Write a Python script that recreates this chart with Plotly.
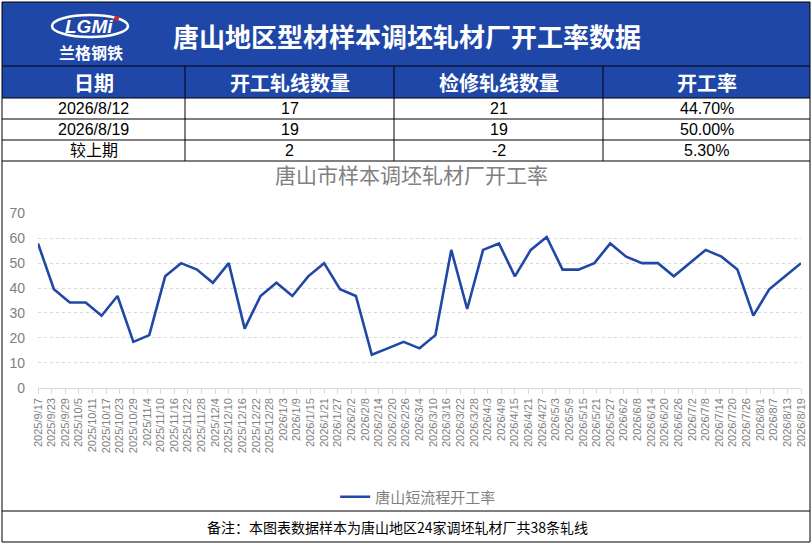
import plotly.graph_objects as go

W, H = 812, 544

# ---- data ----
dates = [
    "2025-09-17", "2025-09-24", "2025-10-01", "2025-10-08", "2025-10-15", "2025-10-22", "2025-10-29",
    "2025-11-05", "2025-11-12", "2025-11-19", "2025-11-26", "2025-12-03", "2025-12-10", "2025-12-17",
    "2025-12-24", "2025-12-31", "2026-01-07", "2026-01-14", "2026-01-21", "2026-01-28", "2026-02-04",
    "2026-02-11", "2026-02-18", "2026-02-25", "2026-03-04", "2026-03-11", "2026-03-18", "2026-03-25",
    "2026-04-01", "2026-04-08", "2026-04-15", "2026-04-22", "2026-04-29", "2026-05-06", "2026-05-13",
    "2026-05-20", "2026-05-27", "2026-06-03", "2026-06-10", "2026-06-17", "2026-06-24", "2026-07-01",
    "2026-07-08", "2026-07-15", "2026-07-22", "2026-07-29", "2026-08-05", "2026-08-12", "2026-08-19",
]
rates = [
    57.9, 39.5, 34.2, 34.2, 28.9, 36.8, 18.4,
    21.1, 44.7, 50.0, 47.4, 42.1, 50.0, 23.7,
    36.8, 42.1, 36.8, 44.7, 50.0, 39.5, 36.8,
    13.2, 15.8, 18.4, 15.8, 21.1, 55.3, 31.6,
    55.3, 57.9, 44.7, 55.3, 60.5, 47.4, 47.4,
    50.0, 57.9, 52.6, 50.0, 50.0, 44.7, 50.0,
    55.3, 52.6, 47.4, 28.9, 39.5, 44.7, 50.0,
]
series_name = "唐山短流程开工率"

header_title = "唐山地区型材样本调坯轧材厂开工率数据"
table_headers = ["日期", "开工轧线数量", "检修轧线数量", "开工率"]
table_rows = [
    ["2026/8/12", "17", "21", "44.70%"],
    ["2026/8/19", "19", "19", "50.00%"],
    ["较上期", "2", "-2", "5.30%"],
]
chart_title = "唐山市样本调坯轧材厂开工率"
footnote = "备注：本图表数据样本为唐山地区24家调坯轧材厂共38条轧线"

# ---- helpers (pixel -> paper) ----
def X(px):
    return px / W

def Y(py):
    return 1 - py / H

BLUE = "#1E47A8"
LINE_BLUE = "#2148A6"
CJK = "Noto Sans CJK SC"
NARROW = "Liberation Sans, Noto Sans CJK SC"

fig = go.Figure()
fig.add_trace(go.Scatter(
    x=dates, y=rates, mode="lines", name=series_name,
    line=dict(color=LINE_BLUE, width=2.6),
))

shapes = []
annotations = []

def text(px, py, s, size, color, family=CJK, xanchor="center"):
    annotations.append(dict(xref="paper", yref="paper", x=X(px), y=Y(py),
                            xanchor=xanchor, yanchor="middle",
                            text=s, showarrow=False,
                            font=dict(family=family, size=size, color=color)))

# header band
shapes.append(dict(type="rect", xref="paper", yref="paper",
                   x0=X(2), x1=X(810), y0=Y(98), y1=Y(2),
                   fillcolor=BLUE, line=dict(width=0), layer="below"))

def hline(py, x0=2, x1=810, color="black", w=1):
    shapes.append(dict(type="line", xref="paper", yref="paper",
                       x0=X(x0), x1=X(x1), y0=Y(py), y1=Y(py),
                       line=dict(color=color, width=w)))

def vline(px, y0, y1, color="black", w=1):
    shapes.append(dict(type="line", xref="paper", yref="paper",
                       x0=X(px), x1=X(px), y0=Y(y0), y1=Y(y1),
                       line=dict(color=color, width=w)))

for py in [2, 66, 98, 119, 140, 161, 511, 542]:
    hline(py)
vline(2, 2, 542)
vline(810, 2, 542)
col_edges = [2, 185, 394, 603, 810]
for px in col_edges[1:-1]:
    vline(px, 66, 161)

# logo
shapes.append(dict(type="circle", xref="paper", yref="paper",
                   x0=X(52), x1=X(128), y0=Y(37), y1=Y(15),
                   line=dict(color="white", width=2.5)))
shapes.append(dict(type="circle", xref="paper", yref="paper",
                   x0=X(114), x1=X(119), y0=Y(21), y1=Y(16),
                   fillcolor="#E02020", line=dict(width=0)))
text(89, 26.5, "<b><i>LGMi</i></b>", 19, "white", family="Arial, Liberation Sans")
text(91, 51.5, "<b>兰格钢铁</b>", 16, "white")

# main title
text(407, 36, "<b>" + header_title + "</b>", 26, "white")

# table
col_centers = [(col_edges[i] + col_edges[i + 1]) / 2 for i in range(4)]
for i, h in enumerate(table_headers):
    text(col_centers[i], 82, "<b>" + h + "</b>", 20, "white")
row_centers = [108.5, 129.5, 150.5]
for r, row in enumerate(table_rows):
    for i, cell in enumerate(row):
        text(col_centers[i], row_centers[r], cell, 16, "black", family=NARROW)

# chart title
text(411, 174, chart_title, 21, "#808080")

# footnote
text(205, 527, footnote, 14, "black", xanchor="left")

fig.update_layout(
    width=W, height=H,
    margin=dict(l=0, r=0, t=0, b=0, pad=0, autoexpand=False),
    paper_bgcolor="white", plot_bgcolor="white",
    shapes=shapes, annotations=annotations,
    showlegend=True,
    legend=dict(orientation="h", x=0.515, xanchor="center", y=Y(497), yanchor="middle",
                font=dict(family=CJK, size=15, color="#808080"),
                bgcolor="rgba(0,0,0,0)"),
    xaxis=dict(
        type="date",
        domain=[X(38), X(801)],
        range=[dates[0], dates[-1]],
        tick0=dates[0], dtick=6 * 86400000,
        tickformat="%Y/%-m/%-d",
        tickangle=-90,
        tickfont=dict(family="Arial, Liberation Sans", size=11, color="#808080"),
        ticks="outside", ticklen=5, tickcolor="#D9D9D9",
        showline=True, linecolor="#D9D9D9", linewidth=1,
        showgrid=False, zeroline=False,
        anchor="y", automargin=False,
    ),
    yaxis=dict(
        domain=[Y(387.7), Y(213.3)],
        range=[0, 70], dtick=10,
        tickfont=dict(family="Arial, Liberation Sans", size=14, color="#808080"),
        showgrid=True, gridcolor="#D9D9D9", griddash="dot", gridwidth=1,
        zeroline=False, showline=False, ticks="",
        ticklabelstandoff=12, automargin=False,
    ),
)

fig.write_html(
    "out.html",
    config={"displayModeBar": False},
    post_script="document.body.style.margin='0';document.body.style.overflow='hidden';",
)
